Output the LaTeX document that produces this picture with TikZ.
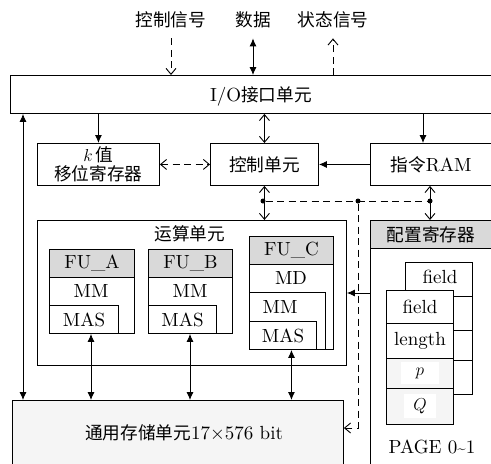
\documentclass[tikz,border=0pt]{standalone}
\usepackage{fontspec}
\setmainfont{lmroman10-regular.otf}[ItalicFont=lmroman10-italic.otf, BoldFont=lmroman10-bold.otf]
\newfontfamily\cjk{Noto Sans CJK SC}[Scale=0.93]
\usetikzlibrary{arrows.meta}
\definecolor{hdr}{gray}{0.85}
\definecolor{memfill}{gray}{0.96}
\tikzset{
  fs/.style={font=\fontsize{19}{21}\selectfont},
  box/.style={draw, line width=0.9pt, inner sep=0pt, anchor=north west, fill=white, fs},
  lbl/.style={inner sep=0pt, fs},
  ln/.style={line width=0.9pt},
  fa/.style={ln, -{Latex[length=8pt,width=7pt]}},
  fab/.style={ln, {Latex[length=8pt,width=7pt]}-{Latex[length=8pt,width=7pt]}},
  oa/.style={ln, -{Straight Barb[length=6pt,width=10pt]}},
  oab/.style={ln, {Straight Barb[length=6pt,width=10pt]}-{Straight Barb[length=6pt,width=10pt]}},
  dsh/.style={dash pattern=on 7pt off 4.5pt},
  dotc/.style={circle, fill=black, inner sep=0pt, minimum size=5pt}
}
\begin{document}
\begin{tikzpicture}[x=1pt,y=-1pt]
\clip (0,0) rectangle (491,464);
\fill[white] (0,0) rectangle (491,464);
% top labels
\node[lbl] (l1) at (171,20) {\cjk 控制信号};
\node[lbl] (l2) at (253,20) {\cjk 数据};
\node[lbl] (l3) at (333,20) {\cjk 状态信号};
% I/O
\node[box, minimum width=500pt, minimum height=38pt] (io) at (10,75) {};
\node[lbl] (iot) at (261,96) {I/O\cjk 接口单元};
% second row
\node[box, minimum width=122pt, minimum height=42pt, align=center, font=\fontsize{19}{19}\selectfont] (k) at (37,143) {$k$\,{\cjk 值}\\{\cjk 移位寄存器}};
\node[box, minimum width=108pt, minimum height=42pt] (ctrl) at (210,143) {\cjk 控制单元};
\node[box, minimum width=121pt, minimum height=42pt] (ram) at (370,143) {{\cjk 指令}RAM};
% compute unit
\node[box, minimum width=309pt, minimum height=145pt] (alu) at (37,220) {};
\node[lbl] (alut) at (190,234) {\cjk 运算单元};
% FU_A
\node[box, minimum width=85pt, minimum height=84pt] (fa) at (49,249) {};
\node[box, fill=hdr, minimum width=85pt, minimum height=28pt] (fah) at (49,249) {FU\_A};
\node[lbl] (fam) at (91,291) {MM};
\node[box, minimum width=69pt, minimum height=28pt] (fas) at (49,305) {MAS};
% FU_B
\node[box, minimum width=84pt, minimum height=84pt] (fb) at (148,249) {};
\node[box, fill=hdr, minimum width=84pt, minimum height=28pt] (fbh) at (148,249) {FU\_B};
\node[lbl] (fbm) at (190,291) {MM};
\node[box, minimum width=68pt, minimum height=28pt] (fbs) at (148,305) {MAS};
% FU_C
\node[box, minimum width=84pt, minimum height=113pt] (fc) at (249,236) {};
\node[box, fill=hdr, minimum width=84pt, minimum height=28pt] (fch) at (249,236) {FU\_C};
\node[lbl] (fcd) at (291,278) {MD};
\node[box, minimum width=76pt, minimum height=57pt] (fcm) at (249,292) {};
\node[lbl] (fcmt) at (280,307) {MM};
\node[box, minimum width=67pt, minimum height=28pt] (fcs) at (249,321) {MAS};
% memory
\node[box, fill=memfill, minimum width=331pt, minimum height=70pt] (mem) at (12,400) {};
\node[lbl] (memt) at (184,433) {{\cjk 通用存储单元}17\texttimes576 bit};
% config
\node[box, minimum width=121pt, minimum height=250pt] (cfg) at (370,220) {};
\node[box, fill=hdr, minimum width=121pt, minimum height=28pt] (cfgh) at (370,220) {\cjk 配置寄存器};
% back stack
\node[box, minimum width=67pt, minimum height=132pt] (bs) at (405,262) {};
\draw[ln] (405,296) -- (472,296) (405,330) -- (472,330) (405,360) -- (472,360);
\node[lbl] (bsf) at (440,277) {field};
% front stack
\node[box, minimum width=67pt, minimum height=33pt] (f1) at (386,290) {field};
\node[box, minimum width=67pt, minimum height=35pt] (f2) at (386,323) {length};
\node[box, fill=gray!8, minimum width=67pt, minimum height=30pt] (f3) at (386,358) {};
\node[fill=white, minimum width=38pt, minimum height=22pt, inner sep=0pt, fs] (f3t) at (f3.center) {$p$};
\node[box, fill=gray!8, minimum width=67pt, minimum height=36pt] (f4) at (386,388) {};
\node[fill=white, minimum width=32pt, minimum height=24pt, inner sep=0pt, fs] (f4t) at (f4.center) {$Q$};
\node[lbl] (page) at (432,447) {PAGE 0{\fontsize{15}{15}\selectfont\char"7E}1};
% top arrows
\draw[oa, dsh] ([yshift=-10pt]l1.south) -- (l1.south |- io.north);
\draw[fab] ([yshift=-10pt]l2.south) -- (l2.south |- io.north);
\draw[oa, dsh] (l3.south |- io.north) -- ([yshift=-10pt]l3.south);
% io connections
\coordinate (c23) at (23,0);
\coordinate (c423) at (423,0);
\draw[fab] (c23 |- mem.north) -- (c23 |- io.south);
\draw[fa] (k.north |- io.south) -- (k.north);
\draw[oab] (ctrl.north |- io.south) -- (ctrl.north);
\draw[fa] (c423 |- io.south) -- (c423 |- ram.north);
% row connections
\draw[oab, dsh] (k.east) -- (ctrl.west);
\draw[fa] (ram.west) -- (ctrl.east);
% control bus
\coordinate (c430) at (430,0);
\draw[oab] (ctrl.south) -- (ctrl.south |- alu.north);
\draw[oab] (c430 |- ram.south) -- (c430 |- cfg.north);
\node[dotc] (d1) at (263,201) {};
\node[dotc] (d2) at (358,201) {};
\node[dotc] (d3) at (430,201) {};
\draw[ln, dsh] (d1) -- (d3);
\coordinate (bend) at (358,428);
\draw[oa, dsh] (d2) -- (bend) -- (bend -| mem.east);
% config to alu
\coordinate (c293) at (0,293);
\draw[fa] (cfg.west |- c293) -- (alu.east |- c293);
% memory connections
\coordinate (c91) at (91,0);
\coordinate (c190) at (190,0);
\draw[fab] (c91 |- mem.north) -- (c91 |- fa.south);
\draw[fab] (c190 |- mem.north) -- (c190 |- fb.south);
\draw[fab] (fc.south |- mem.north) -- (fc.south);
\end{tikzpicture}
\end{document}
